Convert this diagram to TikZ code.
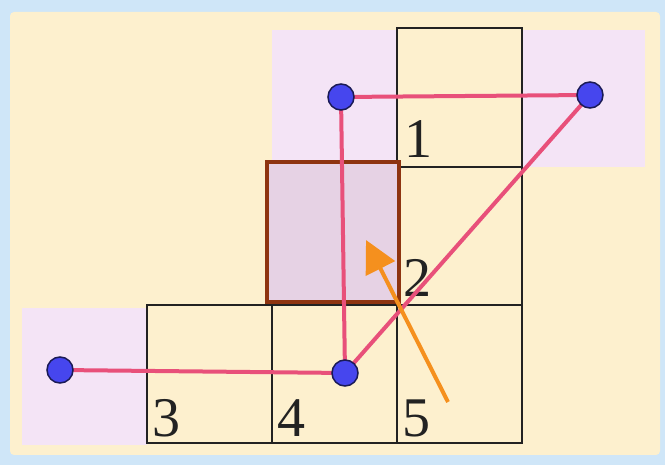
\documentclass[tikz,border=0pt]{standalone}
\usepackage{fontspec}
\setmainfont{Liberation Serif}
\usetikzlibrary{arrows.meta}
\definecolor{frameblue}{HTML}{CFE6F8}
\definecolor{cream}{HTML}{FDF0CE}
\definecolor{lav}{HTML}{F4E4F6}
\definecolor{lavdark}{HTML}{E6D2E4}
\definecolor{brownedge}{HTML}{8E3410}
\definecolor{linkpink}{HTML}{E8507A}
\definecolor{dotblue}{HTML}{4646EE}
\definecolor{dotedge}{HTML}{1A1A55}
\definecolor{arroworange}{HTML}{F5901E}
\definecolor{gridline}{HTML}{222222}
\tikzset{
  cell/.style={draw=gridline, line width=2.3pt},
  link/.style={draw=linkpink, line width=4pt},
  dot/.style={circle, fill=dotblue, draw=dotedge, line width=1.5pt, minimum size=26pt, inner sep=0pt},
  digit/.style={anchor=base west, inner sep=0pt, font=\fontsize{56}{60}\selectfont, text=gridline},
}
\begin{document}
\begin{tikzpicture}[x=1pt,y=-1pt]
\useasboundingbox (0,0) rectangle (665,465);
\fill[frameblue] (0,0) rectangle (665,465);
\fill[cream, rounded corners=4pt] (10,12) rectangle (660,455);
% lavender bands
\fill[lav] (272,30) rectangle (645,167);
\fill[lav] (22,308) rectangle (147,445);
% cells
\fill[cream] (397,28) rectangle (522,167);
\draw[cell] (397,28) rectangle (522,167);
\draw[cell] (397,167) rectangle (522,305);
\draw[cell] (147,305) rectangle (272,443);
\draw[cell] (272,305) rectangle (397,443);
\draw[cell] (397,305) rectangle (522,443);
% highlighted square
\filldraw[fill=lavdark, draw=brownedge, line width=4.5pt] (267,162) rectangle (399,302);
% digits
\node[digit] (l1) at (404,158) {1};
\node[digit] (l2) at (403,297) {2};
\node[digit] (l3) at (152,437) {3};
\node[digit] (l4) at (277,437) {4};
\node[digit] (l5) at (402,437) {5};
% point positions
\coordinate (pa) at (341,97);
\coordinate (pb) at (590,95);
\coordinate (pc) at (60,370);
\coordinate (pd) at (345,373);
% links
\draw[link] (pa) -- (pb);
\draw[link] (pa) -- (pd);
\draw[link] (pb) -- (pd);
\draw[link] (pc) -- (pd);
% arrow
\coordinate (tail) at (448,402);
\coordinate (tip) at (366,240);
\draw[arroworange, line width=4pt, -{Triangle[length=32pt,width=32pt]}] (tail) -- (tip);
% dots
\node[dot] (a) at (pa) {};
\node[dot] (b) at (pb) {};
\node[dot] (c) at (pc) {};
\node[dot] (d) at (pd) {};
\end{tikzpicture}
\end{document}
